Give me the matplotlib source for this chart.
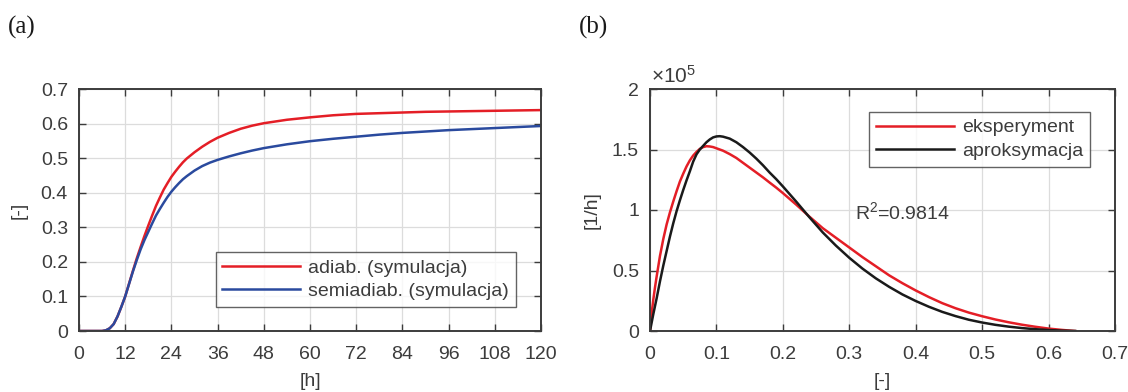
import matplotlib
matplotlib.use("Agg")
import matplotlib.pyplot as plt

# ---- panel (a) data ----
t_adiab = [0, 6, 7, 8, 9, 10, 11, 12, 13, 14, 15, 16, 17, 18, 19, 20, 21, 22, 23, 24, 25, 26, 27, 28, 30, 32, 34, 36, 39, 42, 45, 48, 54, 60, 66, 72, 78, 84, 90, 96, 102, 108, 114, 120]
adiab = [0, 0, 0.002, 0.008, 0.02, 0.042, 0.07, 0.10, 0.137, 0.174, 0.21, 0.243, 0.275, 0.305, 0.334, 0.362, 0.386, 0.409, 0.428, 0.446, 0.461, 0.475, 0.488, 0.499, 0.517, 0.533, 0.547, 0.559, 0.573, 0.585, 0.594, 0.601, 0.611, 0.618, 0.624, 0.628, 0.630, 0.632, 0.634, 0.635, 0.636, 0.637, 0.638, 0.639]
t_semi = [0, 6, 7, 8, 9, 10, 11, 12, 13, 14, 15, 16, 17, 18, 19, 20, 21, 22, 23, 24, 25, 26, 27, 28, 30, 32, 34, 36, 39, 42, 45, 48, 54, 60, 66, 72, 78, 84, 90, 96, 102, 108, 114, 120]
semiadiab = [0, 0, 0.002, 0.008, 0.02, 0.042, 0.07, 0.10, 0.136, 0.172, 0.205, 0.236, 0.263, 0.287, 0.311, 0.334, 0.353, 0.371, 0.388, 0.403, 0.416, 0.428, 0.439, 0.448, 0.464, 0.477, 0.487, 0.495, 0.505, 0.514, 0.522, 0.529, 0.540, 0.549, 0.556, 0.562, 0.568, 0.573, 0.577, 0.581, 0.584, 0.587, 0.590, 0.593]

# ---- panel (b) data (values in units of 1e5 1/h) ----
x_eksp = [0, 0.0025, 0.005, 0.0075, 0.01, 0.015, 0.02, 0.025, 0.03, 0.035, 0.04, 0.045, 0.05, 0.055, 0.06, 0.065, 0.07, 0.075, 0.08, 0.085, 0.09, 0.095, 0.1, 0.11, 0.12, 0.13, 0.14, 0.15, 0.16, 0.17, 0.18, 0.19, 0.2, 0.22, 0.24, 0.26, 0.28, 0.3, 0.32, 0.34, 0.36, 0.38, 0.4, 0.42, 0.44, 0.46, 0.48, 0.5, 0.52, 0.54, 0.56, 0.58, 0.6, 0.62, 0.64]
eksperyment = [0, 0.15, 0.26, 0.36, 0.45, 0.62, 0.76, 0.88, 0.98, 1.07, 1.155, 1.235, 1.30, 1.36, 1.41, 1.45, 1.48, 1.505, 1.52, 1.527, 1.525, 1.52, 1.51, 1.49, 1.462, 1.43, 1.39, 1.35, 1.31, 1.27, 1.227, 1.185, 1.14, 1.045, 0.945, 0.85, 0.77, 0.69, 0.61, 0.535, 0.46, 0.395, 0.335, 0.28, 0.23, 0.188, 0.152, 0.122, 0.095, 0.072, 0.052, 0.035, 0.02, 0.009, 0]
x_aprox = [0, 0.0025, 0.005, 0.01, 0.015, 0.02, 0.025, 0.03, 0.035, 0.04, 0.045, 0.05, 0.055, 0.06, 0.065, 0.07, 0.075, 0.08, 0.085, 0.09, 0.095, 0.1, 0.105, 0.11, 0.12, 0.13, 0.14, 0.15, 0.16, 0.17, 0.18, 0.19, 0.2, 0.22, 0.24, 0.26, 0.28, 0.3, 0.32, 0.34, 0.36, 0.38, 0.4, 0.42, 0.44, 0.46, 0.48, 0.5, 0.52, 0.54, 0.56, 0.58, 0.6, 0.62, 0.64]
aproksymacja = [0, 0.07, 0.14, 0.27, 0.41, 0.54, 0.66, 0.78, 0.89, 0.99, 1.08, 1.165, 1.245, 1.32, 1.40, 1.46, 1.50, 1.53, 1.56, 1.583, 1.60, 1.608, 1.61, 1.606, 1.59, 1.56, 1.52, 1.475, 1.425, 1.37, 1.31, 1.255, 1.195, 1.07, 0.94, 0.815, 0.705, 0.605, 0.515, 0.435, 0.365, 0.302, 0.248, 0.2, 0.158, 0.123, 0.093, 0.07, 0.051, 0.036, 0.024, 0.015, 0.008, 0.003, 0]

xticks_a = [0, 12, 24, 36, 48, 60, 72, 84, 96, 108, 120]
yticks_a = [0, 0.1, 0.2, 0.3, 0.4, 0.5, 0.6, 0.7]
yticklabels_a = ["0", "0.1", "0.2", "0.3", "0.4", "0.5", "0.6", "0.7"]
xticks_b = [0, 0.1, 0.2, 0.3, 0.4, 0.5, 0.6, 0.7]
xticklabels_b = ["0", "0.1", "0.2", "0.3", "0.4", "0.5", "0.6", "0.7"]
yticks_b = [0, 0.5, 1, 1.5, 2]
yticklabels_b = ["0", "0.5", "1", "1.5", "2"]

RED = "#E41E26"
BLUE = "#2A4A9E"
BLACK = "#1A1A1A"
DARK = "#3C3C3C"
GRID = "#DCDCDC"
FS = 14

plt.rcParams["font.family"] = ["Liberation Sans", "DejaVu Sans"]
plt.rcParams["mathtext.fontset"] = "custom"
plt.rcParams["mathtext.rm"] = "Liberation Sans"
plt.rcParams["mathtext.it"] = "Liberation Sans"

fig = plt.figure(figsize=(11.28, 3.92), dpi=100)
W, H = 1128, 392
ax_a = fig.add_axes([79 / W, 1 - 331 / H, (541 - 79) / W, (331 - 89) / H])
ax_b = fig.add_axes([650 / W, 1 - 331 / H, (1115 - 650) / W, (331 - 89) / H])


def style(ax):
    for s in ax.spines.values():
        s.set_color(DARK)
        s.set_linewidth(1.4)
    ax.tick_params(direction="in", top=True, right=True, length=5, width=1.0,
                   color=DARK, labelcolor=DARK, labelsize=FS)
    ax.tick_params(axis="x", pad=11)
    ax.tick_params(axis="y", pad=8)
    ax.grid(True, color=GRID, linewidth=0.9)
    ax.set_axisbelow(True)


def legend(ax, loc, anchor):
    lg = ax.legend(loc=loc, bbox_to_anchor=anchor, fontsize=FS,
                   frameon=True, fancybox=False, edgecolor=DARK, handlelength=4.0,
                   handletextpad=0.4, borderpad=0.35, labelspacing=0.3, borderaxespad=0)
    lg.get_frame().set_linewidth(1.0)
    for t in lg.get_texts():
        t.set_color(DARK)
    return lg


ax_a.plot(t_adiab, adiab, color=RED, lw=1.8, label="adiab. (symulacja)")
ax_a.plot(t_semi, semiadiab, color=BLUE, lw=1.8, label="semiadiab. (symulacja)")
ax_a.set_xlim(0, 120)
ax_a.set_ylim(0, 0.7)
ax_a.set_xticks(xticks_a)
ax_a.set_yticks(yticks_a)
ax_a.set_xticklabels([str(v) for v in xticks_a])
ax_a.set_yticklabels(yticklabels_a)
style(ax_a)
legend(ax_a, "lower right", (0.945, 0.1))

ax_b.plot(x_eksp, eksperyment, color=RED, lw=1.8, label="eksperyment")
ax_b.plot(x_aprox, aproksymacja, color=BLACK, lw=1.8, label="aproksymacja")
ax_b.set_xlim(0, 0.7)
ax_b.set_ylim(0, 2)
ax_b.set_xticks(xticks_b)
ax_b.set_yticks(yticks_b)
ax_b.set_xticklabels(xticklabels_b)
ax_b.set_yticklabels(yticklabels_b)
style(ax_b)
legend(ax_b, "upper right", (0.946, 0.905))
ax_b.text(0.308, 0.98, r"R$^2$=0.9814", fontsize=FS, color=DARK, va="center", ha="left")
ax_b.text(0.003, 1.01, r"$\times$10$^5$", transform=ax_b.transAxes, fontsize=15,
          color=DARK, ha="left", va="bottom")

fig.text(310 / W, 1 - 381 / H, "[h]", fontsize=FS, color=DARK, ha="center", va="center")
fig.text(882 / W, 1 - 382 / H, "[-]", fontsize=FS, color=DARK, ha="center", va="center")
fig.text(19 / W, 1 - 210 / H, "[-]", fontsize=FS, color=DARK, ha="center", va="center", rotation=90)
fig.text(592 / W, 1 - 210 / H, "[1/h]", fontsize=FS, color=DARK, ha="center", va="center", rotation=90)

fig.text(8 / W, 1 - 27 / H, "(a)", fontsize=18, family="Liberation Serif", color="#1a1a1a", ha="left", va="center")
fig.text(579 / W, 1 - 27 / H, "(b)", fontsize=18, family="Liberation Serif", color="#1a1a1a", ha="left", va="center")

fig.savefig("out.png", dpi=100)
